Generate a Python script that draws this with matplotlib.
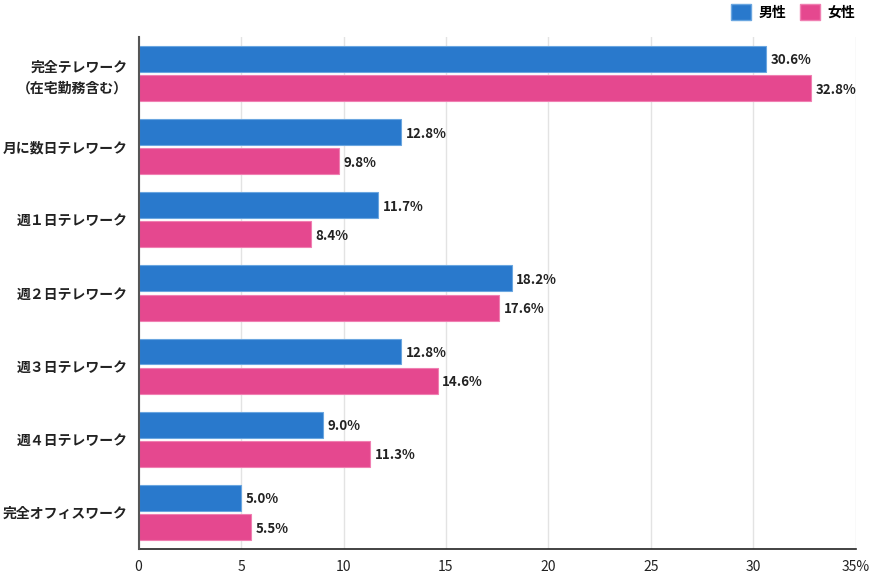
import numpy as np
import matplotlib
matplotlib.use("Agg")
import matplotlib.pyplot as plt
from matplotlib.patches import Patch

plt.rcParams['font.family'] = ['Noto Sans CJK JP', 'DejaVu Sans']

categories = ['完全テレワーク\n（在宅勤務含む）', '月に数日テレワーク', '週１日テレワーク',
              '週２日テレワーク', '週３日テレワーク', '週４日テレワーク', '完全オフィスワーク']
male = [30.6, 12.8, 11.7, 18.2, 12.8, 9.0, 5.0]
female = [32.8, 9.8, 8.4, 17.6, 14.6, 11.3, 5.5]
series_names = ['男性', '女性']
xticks = [0, 5, 10, 15, 20, 25, 30, 35]
xtick_labels = ['0', '5', '10', '15', '20', '25', '30', '35%']

blue = '#2979cc'
pink = '#e5488f'

fig = plt.figure(figsize=(8.7, 5.78), dpi=100)
ax = fig.add_axes([0.1592, 0.0502, 0.8247, 0.8858])

y = np.arange(len(categories))
h = 0.355
off = 0.2

b1 = ax.barh(y - off, male, height=h, color=blue, edgecolor='#6aa6e0', linewidth=0.8, zorder=3)
b2 = ax.barh(y + off, female, height=h, color=pink, edgecolor='#f07fb2', linewidth=0.8, zorder=3)

for bars, vals in ((b1, male), (b2, female)):
    for bar, v in zip(bars, vals):
        ax.text(v + 0.22, bar.get_y() + bar.get_height() / 2 + 0.02, f'{v:.1f}%',
                va='center', ha='left', fontsize=9.6, fontweight='bold', color='#222222')

ax.set_xlim(0, 35)
ax.set_ylim(len(categories) - 0.5, -0.5)
ax.set_yticks(y)
ax.set_yticklabels(categories, fontsize=10, fontweight='bold', color='#222222',
                   linespacing=1.55)
ax.set_xticks(xticks)
ax.set_xticklabels(xtick_labels, fontsize=10, color='#222222')
ax.tick_params(axis='y', length=0, pad=8)
ax.tick_params(axis='x', length=0, pad=8)

ax.grid(axis='x', color='#e3e3e3', linewidth=1, zorder=0)
for s in ('top', 'right'):
    ax.spines[s].set_visible(False)
ax.spines['left'].set_color('#555555')
ax.spines['left'].set_linewidth(1.5)
ax.spines['bottom'].set_color('#222222')
ax.spines['bottom'].set_linewidth(1.2)
ax.spines['left'].set_zorder(4)

handles = [Patch(facecolor=blue, edgecolor='#6aa6e0'), Patch(facecolor=pink, edgecolor='#f07fb2')]
leg = fig.legend(handles, series_names, loc='upper right', bbox_to_anchor=(0.997, 1.014),
                 ncol=2, frameon=False, handlelength=1.4, handleheight=1.4,
                 handletextpad=0.55, columnspacing=1.0,
                 prop={'size': 10, 'weight': 'bold'})

fig.savefig('out.png', dpi=100)
